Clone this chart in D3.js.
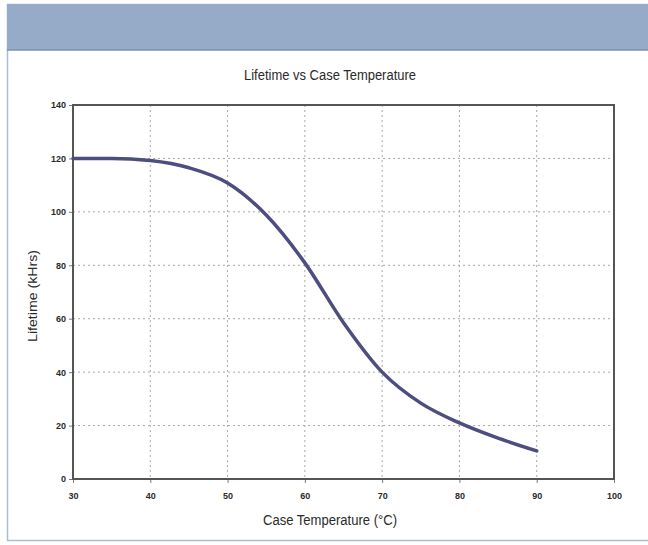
<!DOCTYPE html>
<html>
<head>
<meta charset="utf-8">
<script src="https://cdn.jsdelivr.net/npm/d3@7"></script>
<style>
  body { margin: 0; background: #fff; }
  text { font-family: "Liberation Sans Narrow", "Arial Narrow", "Liberation Sans", sans-serif; fill: #2a2a2a; }
</style>
</head>
<body>
<div id="chart"></div>
<script>
// values
var temps = [30, 35, 40, 45, 50, 55, 60, 65, 70, 75, 80, 85, 90];
var lifetime = [120, 120, 119.2, 116.5, 110.8, 98.8, 80.9, 58.5, 40, 28.4, 21, 15.3, 10.5];
var xTicks = [30, 40, 50, 60, 70, 80, 90, 100];
var yTicks = [0, 20, 40, 60, 80, 100, 120, 140];

var svgWidth = 648;
var svgHeight = 545;

var margin = { top: 105, right: 34, bottom: 66, left: 73 };
var chartWidth = svgWidth - margin.left - margin.right;
var chartHeight = svgHeight - margin.top - margin.bottom;

var svg = d3.select("#chart")
    .append("svg")
    .attr("width", svgWidth)
    .attr("height", svgHeight);

// page frame and header band
svg.append("rect")
    .attr("x", 7.5).attr("y", 4.5)
    .attr("width", 645).attr("height", 536)
    .attr("fill", "none")
    .attr("stroke", "#aabcd6")
    .attr("stroke-width", 1.5);

svg.append("rect")
    .attr("x", 7).attr("y", 4)
    .attr("width", 641).attr("height", 46)
    .attr("fill", "#95abc8");

svg.append("line")
    .attr("x1", 7).attr("x2", 648)
    .attr("y1", 50).attr("y2", 50)
    .attr("stroke", "#7a90b0")
    .attr("stroke-width", 1.5);

var chartGroup = svg.append("g")
    .attr("transform", `translate(${margin.left}, ${margin.top})`);

var xScale = d3.scaleLinear()
    .domain([30, 100])
    .range([0, chartWidth]);

var yScale = d3.scaleLinear()
    .domain([0, 140])
    .range([chartHeight, 0]);

// grid
chartGroup.append("g")
    .selectAll("line")
    .data(xTicks.slice(1, -1))
    .enter()
    .append("line")
    .attr("x1", d => xScale(d)).attr("x2", d => xScale(d))
    .attr("y1", 0).attr("y2", chartHeight)
    .attr("stroke", "#a8a8a8")
    .attr("stroke-width", 1)
    .attr("stroke-dasharray", "2,3");

chartGroup.append("g")
    .selectAll("line")
    .data(yTicks.slice(1, -1))
    .enter()
    .append("line")
    .attr("x1", 0).attr("x2", chartWidth)
    .attr("y1", d => yScale(d)).attr("y2", d => yScale(d))
    .attr("stroke", "#a8a8a8")
    .attr("stroke-width", 1)
    .attr("stroke-dasharray", "2,3");

// axes
var bottomAxis = d3.axisBottom(xScale).tickValues(xTicks).tickSize(4).tickPadding(10);
var leftAxis = d3.axisLeft(yScale).tickValues(yTicks).tickSize(4).tickPadding(3);

var xAxisG = chartGroup.append("g")
    .attr("transform", `translate(0, ${chartHeight})`)
    .call(bottomAxis);

var yAxisG = chartGroup.append("g")
    .call(leftAxis);

[xAxisG, yAxisG].forEach(function (g) {
    g.select(".domain").remove();
    g.selectAll("line").attr("stroke", "#777");
    g.selectAll("text")
        .style("font-size", "9px")
        .style("font-weight", "bold")
        .attr("fill", "#333");
});

// plot frame
chartGroup.append("rect")
    .attr("width", chartWidth)
    .attr("height", chartHeight)
    .attr("fill", "none")
    .attr("stroke", "#555")
    .attr("stroke-width", 2);

// curve
var line = d3.line()
    .x((d, i) => xScale(temps[i]))
    .y(d => yScale(d))
    .curve(d3.curveMonotoneX);

chartGroup.append("path")
    .datum(lifetime)
    .attr("d", line)
    .attr("fill", "none")
    .attr("stroke", "#4d4d80")
    .attr("stroke-width", 3.5)
    .attr("stroke-linecap", "round");

// titles
svg.append("text")
    .attr("x", 330).attr("y", 80)
    .attr("text-anchor", "middle")
    .attr("textLength", 172)
    .attr("lengthAdjust", "spacingAndGlyphs")
    .style("font-size", "14px")
    .text("Lifetime vs Case Temperature");

svg.append("text")
    .attr("x", 330).attr("y", 525)
    .attr("text-anchor", "middle")
    .attr("textLength", 134)
    .attr("lengthAdjust", "spacingAndGlyphs")
    .style("font-size", "14px")
    .text("Case Temperature (\u00B0C)");

svg.append("text")
    .attr("transform", "translate(37, 296) rotate(-90)")
    .attr("text-anchor", "middle")
    .attr("textLength", 92)
    .attr("lengthAdjust", "spacingAndGlyphs")
    .style("font-size", "13px")
    .text("Lifetime (kHrs)");
</script>
</body>
</html>
